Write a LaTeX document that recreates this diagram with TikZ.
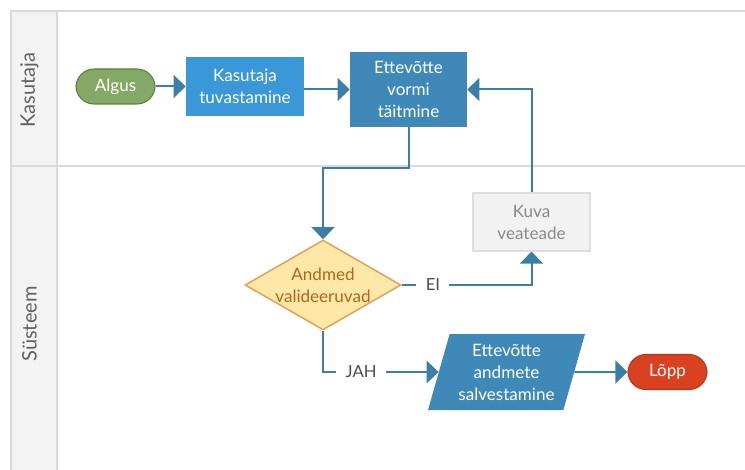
\documentclass[tikz,border=0pt]{standalone}
\usepackage{fontspec}
\setmainfont{Lato}
\usetikzlibrary{shapes.geometric,arrows.meta}
\definecolor{flowc}{HTML}{3A7FA8}
\definecolor{lanegray}{HTML}{F3F3F3}
\definecolor{laneline}{HTML}{D9D9D9}
\definecolor{startg}{HTML}{84A865}
\definecolor{startgd}{HTML}{5E7F3E}
\definecolor{brightblue}{HTML}{3A97D8}
\definecolor{procblue}{HTML}{3F89B9}
\definecolor{decfill}{HTML}{FEE8A8}
\definecolor{decline}{HTML}{E3A55E}
\definecolor{dectext}{HTML}{B0651C}
\definecolor{endred}{HTML}{DA4120}
\definecolor{endredd}{HTML}{B3361A}
\definecolor{errfill}{HTML}{F2F2F2}
\definecolor{errline}{HTML}{DEDEDE}
\definecolor{errtext}{HTML}{8A8A8A}
\begin{document}
\begin{tikzpicture}[x=0.75pt,y=-0.75pt,
  font=\fontsize{12.8}{16.5}\selectfont,
  lanetitle/.style={text=black!62, rotate=90, font=\fontsize{15}{17}\selectfont},
  terminal/.style={rounded corners=13.5pt, draw, line width=0.8pt, text=white,
    minimum width=59.25pt, minimum height=26.25pt},
  procbox/.style={fill=procblue, text=white, align=center, inner sep=0pt},
  flow/.style={draw=flowc, line width=1.5pt,
    -{Triangle[length=9pt,width=17pt]}},
  lbl/.style={fill=white, text=black!70, inner xsep=7pt, inner ysep=2pt,
    font=\fontsize{12.5}{14}\selectfont}
]
\useasboundingbox (0,0) rectangle (745,470);
% swimlanes
\fill[lanegray] (11,11) rectangle (57,470);
\draw[laneline, line width=0.9pt] (745,11) -- (11,11) -- (11,470);
\draw[laneline, line width=0.9pt] (57,11) -- (57,470);
\draw[laneline, line width=0.9pt] (11,166) -- (745,166);
\node[lanetitle] (laneA) at (29.5,90) {Kasutaja};
\node[lanetitle] (laneB) at (29.5,324) {Süsteem};

% nodes
\node[terminal, fill=startg, draw=startgd] (start) at (115.5,86.5) {Algus};
\node[procbox, fill=brightblue, minimum width=88.5pt, minimum height=44.25pt]
  (ident) at (245,86.5) {Kasutaja\\tuvastamine};
\node[procbox, minimum width=87.75pt, minimum height=56.25pt]
  (form) at (408.5,89.5) {Ettevõtte\\vormi\\täitmine};
\node[diamond, aspect=1.733, fill=decfill, draw=decline, line width=1.2pt,
  text=dectext, align=center, inner sep=0pt, minimum width=117pt,
  minimum height=67.5pt] (check) at (323,285) {Andmed\\valideeruvad};
\node[fill=errfill, draw=errline, line width=0.8pt, text=errtext, align=center,
  minimum width=87.75pt, minimum height=43.5pt, inner sep=0pt]
  (err) at (531.5,222) {Kuva\\veateade};
\node[trapezium, trapezium left angle=69, trapezium right angle=111,
  trapezium stretches body, fill=procblue, text=white, align=center, inner sep=0pt,
  minimum width=117.75pt, minimum height=57pt] (save) at (506.5,372)
  {Ettevõtte\\andmete\\salvestamine};
\node[terminal, fill=endred, draw=endredd] (stop) at (667.5,372) {Lõpp};

% connectors
\draw[flow] (start.east) -- (ident.west);
\draw[flow] (ident.east |- form.west) -- (form.west);
\draw[flow] (form.south) -- ++(0,41) -| (check.north);
\draw[flow] (err.north) |- (form.east);
\draw[flow] (check.east) -| node[lbl, pos=0.12] (noLbl) {EI} (err.south);
\draw[flow] (check.south) |- node[lbl, pos=0.665] (yesLbl) {JAH} (save.west);
\draw[flow] (save.east) -- (stop.west);
\end{tikzpicture}
\end{document}
